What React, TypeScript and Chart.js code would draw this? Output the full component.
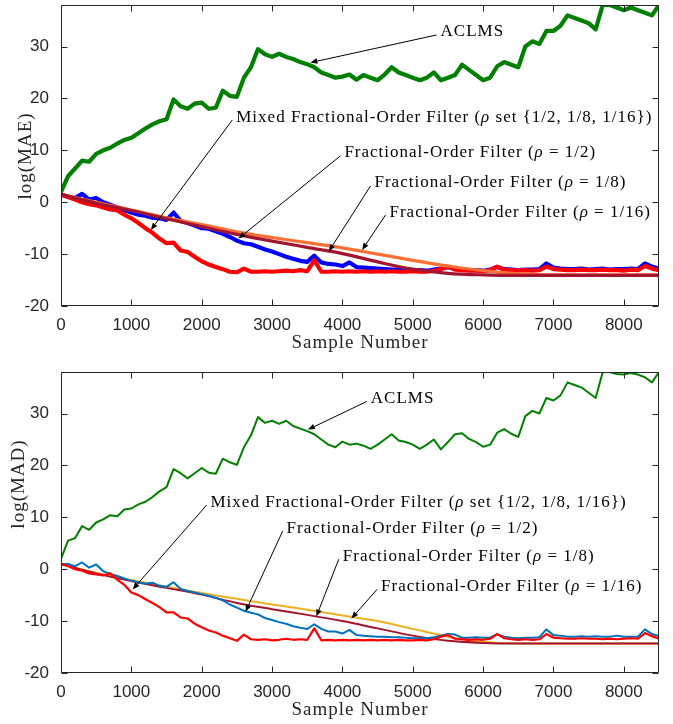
import React, { useEffect, useRef } from "react";
import { Chart, registerables } from "chart.js";
Chart.register(...registerables);

// ---------- data ----------
const sampleIdx = [
  0, 100, 200, 300, 400, 500, 600, 700, 800, 900,
  1000, 1100, 1200, 1300, 1400, 1500, 1600, 1700, 1800, 1900,
  2000, 2100, 2200, 2300, 2400, 2500, 2600, 2700, 2800, 2900,
  3000, 3100, 3200, 3300, 3400, 3500, 3600, 3700, 3800, 3900,
  4000, 4100, 4200, 4300, 4400, 4500, 4600, 4700, 4800, 4900,
  5000, 5100, 5200, 5300, 5400, 5500, 5600, 5700, 5800, 5900,
  6000, 6100, 6200, 6300, 6400, 6500, 6600, 6700, 6800, 6900,
  7000, 7100, 7200, 7300, 7400, 7500, 7600, 7700, 7800, 7900,
  8000, 8100, 8200, 8300, 8400, 8500,
];
const smoothIdx = [0, 500, 1000, 1500, 2000, 2500, 3000, 3500, 4000, 4500, 5000, 5500, 6000, 6500, 7000, 7500, 8000, 8500];
const xTicks = [0, 1000, 2000, 3000, 4000, 5000, 6000, 7000, 8000];
const yTicks = [-20, -10, 0, 10, 20, 30];

// log(MAE)
const maeACLMS = [
  2, 5, 6.5, 8, 7.8, 9.3, 10, 10.5, 11.3, 12,
  12.4, 13.3, 14.2, 15, 15.6, 16, 19.8, 18.5, 18, 19,
  19.2, 18, 18.2, 21.5, 20.5, 20.3, 24, 26, 29.5, 28.5,
  28, 28.6, 28, 27.6, 27, 26.6, 26, 25, 24.5, 24,
  24.2, 24.6, 23.6, 24.5, 24, 23.5, 24.6, 26, 25, 24.5,
  24, 23.5, 24, 25, 23.5, 24, 24.5, 26.5, 25.5, 24.5,
  23.5, 24, 26.2, 27, 26.5, 26, 30, 31, 30.5, 33,
  33, 34, 36, 35.5, 35, 34.5, 33.3, 38, 38, 37.5,
  37, 37.5, 37, 36.5, 36, 38,
];
const maeHalf = [
  1.5, 1, 0.8, 1.6, 0.5, 0.8, 0, -0.5, -1, -1.5,
  -2, -2.4, -2.6, -3, -3.1, -3.4, -2, -3.6, -4, -4.5,
  -5, -5.1, -5.6, -6.1, -6.7, -7.4, -7.9, -8.1, -8.6, -9.1,
  -9.5, -10, -10.5, -10.9, -11.3, -11.5, -10.3, -11.6, -11.9, -12,
  -12.3, -11.6, -12.5, -12.6, -12.7, -12.8, -12.9, -13, -13, -13.1,
  -13.1, -13.1, -13.2, -13, -12.8, -12.5, -12.8, -13, -13.1, -13.1,
  -13.2, -13, -12.5, -12.9, -13, -13.1, -13, -13, -12.9, -11.8,
  -12.6, -12.8, -12.9, -12.9, -12.8, -13, -12.9, -12.8, -13, -12.9,
  -12.9, -12.8, -12.9, -11.8, -12.4, -12.8,
];
const maeMixed = [
  1.5, 1, 0.5, 0, -0.4, -0.6, -1, -1.4, -1.6, -2.4,
  -3.1, -4, -5, -5.9, -7, -7.9, -7.8, -9.3, -9.6, -10.5,
  -11.4, -12, -12.5, -12.9, -13.4, -13.5, -12.8, -13.4, -13.4, -13.3,
  -13.4, -13.3, -13.2, -13.3, -13.1, -13.3, -11.2, -13.4, -13.4, -13.3,
  -13.4, -13.3, -13.4, -13.3, -13.4, -13.3, -13.4, -13.3, -13.4, -13.4,
  -13.3, -13.4, -13.4, -13.2, -12.9, -12.4, -13, -13.1, -13.2, -13.2,
  -13.3, -13.1, -12.4, -13, -13.1, -13.2, -13.1, -13.2, -13.1, -12.4,
  -12.9, -13, -13.1, -13.1, -13, -13.1, -13.1, -13, -13.1, -13.1,
  -13.2, -13, -13.1, -12.3, -12.8, -13.1,
];
const maeSixteenth = [1.5, 0, -1.5, -3, -4.3, -5.7, -6.8, -7.8, -8.8, -10, -11.2, -12.3, -13.2, -13.8, -14, -14, -14, -14];
const maeEighth = [1.5, -0.2, -1.6, -3.2, -4.7, -6.2, -7.5, -8.7, -9.9, -11.5, -12.9, -13.7, -14, -14.1, -14.1, -14.1, -14.1, -14.1];

// log(MAD)
const madACLMS = [
  2, 5.5, 6, 8.3, 7.6, 9, 9.6, 10.4, 10.2, 11.5,
  11.7, 12.5, 13, 13.9, 15, 15.8, 19.3, 18.5, 17.5, 18.5,
  19.5, 18.6, 18.4, 21.3, 20.6, 20.1, 23.5, 25.8, 29.3, 28.2,
  28.6, 28, 28.6, 27.6, 27.1, 26.6, 26, 25, 24, 23.5,
  24.6, 24, 24.2, 23.8, 23.2, 24, 25, 26, 24.8, 24.5,
  24, 23.2, 24, 25, 23.1, 24.5, 26, 26.2, 25.1, 24.5,
  23.6, 24, 26.3, 27, 26.1, 25.5, 29.5, 30.5, 30, 33,
  32.5, 33.5, 36, 35.5, 35, 34, 33, 38, 38, 37.6,
  37.5, 37.8, 37.5, 37, 36, 38,
];
const madHalf = [
  1, 1, 0.6, 1.3, 0.3, 0.9, -0.4, -0.9, -1.3, -1.8,
  -2.2, -2.5, -2.8, -2.6, -3.2, -3.4, -2.5, -3.8, -4.2, -4.5,
  -4.8, -5.1, -5.5, -6, -6.8, -7.4, -8, -8.4, -8.7, -9.4,
  -9.8, -10.2, -10.5, -11, -11.3, -11.5, -10.6, -11.5, -12, -12,
  -12.4, -11.7, -12.7, -12.8, -12.9, -13, -13, -13.1, -13.1, -13.2,
  -13.3, -13.3, -13.3, -13.1, -12.8, -12.5, -12.6, -13.2, -13.2, -13.1,
  -13.2, -13.2, -12.5, -13, -13.2, -13.3, -13.2, -13.2, -13.1, -11.6,
  -12.7, -12.8, -13, -13, -12.9, -13, -12.9, -13, -13, -12.8,
  -13, -13, -13, -11.6, -12.5, -12.9,
];
const madMixed = [
  1, 0.6, 0, -0.3, -0.8, -1, -1.2, -0.8, -2, -3,
  -4.5, -5, -5.8, -6.5, -7.3, -8.3, -8.3, -9.3, -9.5, -10.5,
  -11.2, -11.8, -12.2, -12.8, -13.3, -13.8, -12.6, -13.5, -13.6, -13.5,
  -13.7, -13.6, -13.4, -13.6, -13.5, -13.6, -11.4, -13.7, -13.6, -13.7,
  -13.6, -13.7, -13.6, -13.7, -13.6, -13.7, -13.6, -13.7, -13.6, -13.7,
  -13.7, -13.6, -13.7, -13.5, -13, -12.7, -13.4, -13.5, -13.6, -13.5,
  -13.6, -13.4, -12.5, -13.3, -13.5, -13.6, -13.5, -13.6, -13.5, -12.5,
  -13.2, -13.3, -13.4, -13.4, -13.3, -13.4, -13.4, -13.5, -13.4, -13.5,
  -13.4, -13.3, -13.4, -12.3, -12.9, -13.4,
];
const madSixteenth = [1, -0.7, -2.1, -3.4, -4.6, -5.7, -6.8, -7.8, -8.9, -10, -11.5, -13, -14, -14.3, -14.3, -14.3, -14.3, -14.3];
const madEighth = [1, -0.8, -2.3, -3.6, -4.9, -6.5, -7.7, -8.8, -10, -11.4, -12.8, -13.8, -14.2, -14.3, -14.3, -14.3, -14.3, -14.3];

// annotations
const noteLabels = [
  "ACLMS",
  "Mixed Fractional-Order Filter (ρ set {1/2, 1/8, 1/16})",
  "Fractional-Order Filter (ρ = 1/2)",
  "Fractional-Order Filter (ρ = 1/8)",
  "Fractional-Order Filter (ρ = 1/16)",
];
const maeNoteTextX = [5395, 2491, 4028, 4456, 4669];
const maeNoteTextY = [32.8, 16.4, 9.5, 3.7, -1.9];
const maeNoteHeadX = [3545, 1277, 2524, 3805, 4280];
const maeNoteHeadY = [26.9, -5.35, -7.0, -9.5, -9.2];
const madNoteTextX = [4403, 2125, 3207, 4005, 4550];
const madNoteTextY = [32.9, 12.9, 7.9, 2.5, -3.3];
const madNoteHeadX = [3510, 1019, 2623, 3630, 4128];
const madNoteHeadY = [26.9, -3.9, -8.2, -9.1, -9.5];

// ---------- drawing helpers ----------
const SERIF = '"Liberation Serif", "Times New Roman", serif';
const AXIS_COLOR = "#262626";

function drawRich(ctx: CanvasRenderingContext2D, text: string, x: number, y: number, size: number) {
  const parts = text.split("ρ");
  let cx = x;
  parts.forEach((p, i) => {
    if (i > 0) {
      ctx.font = `italic ${size}px ${SERIF}`;
      ctx.fillText("ρ", cx, y);
      cx += ctx.measureText("ρ").width;
    }
    ctx.font = `${size}px ${SERIF}`;
    ctx.fillText(p, cx, y);
    cx += ctx.measureText(p).width;
  });
}

const decorPlugin = {
  id: "decor",
  afterDatasetsDraw(chart: any, _args: any, opts: any) {
    const { ctx, chartArea, scales } = chart;
    const { left, right, top, bottom } = chartArea;
    const xs = scales.x;
    const ys = scales.y;
    ctx.save();
    // box
    ctx.strokeStyle = AXIS_COLOR;
    ctx.lineWidth = 1;
    const L = Math.round(left) + 0.5;
    const R = Math.round(right) - 0.5;
    const T = Math.round(top) + 0.5;
    const B = Math.round(bottom) - 0.5;
    ctx.beginPath();
    ctx.rect(L, T, R - L, B - T);
    ctx.stroke();
    // inward ticks
    const tl = 6;
    ctx.beginPath();
    xTicks.forEach((v) => {
      const px = Math.round(xs.getPixelForValue(v)) + 0.5;
      ctx.moveTo(px, B);
      ctx.lineTo(px, B - tl);
      ctx.moveTo(px, T);
      ctx.lineTo(px, T + tl);
    });
    yTicks.forEach((v) => {
      const py = Math.round(ys.getPixelForValue(v)) + 0.5;
      ctx.moveTo(L, py);
      ctx.lineTo(L + tl, py);
      ctx.moveTo(R, py);
      ctx.lineTo(R - tl, py);
    });
    ctx.stroke();

    // axis titles
    ctx.fillStyle = AXIS_COLOR;
    (ctx as any).letterSpacing = "1px";
    ctx.font = `19px ${SERIF}`;
    ctx.textAlign = "center";
    ctx.textBaseline = "middle";
    ctx.fillText(opts.xTitle, (left + right) / 2, bottom + opts.xTitleGap);
    ctx.save();
    ctx.translate(opts.yTitleX, opts.yTitleY);
    ctx.rotate(-Math.PI / 2);
    ctx.fillText(opts.yTitle, 0, 0);
    ctx.restore();

    // annotations
    ctx.textAlign = "left";
    ctx.textBaseline = "middle";
    ctx.strokeStyle = "#000";
    ctx.fillStyle = "#000";
    ctx.lineWidth = 1;
    const n = opts.notes;
    n.labels.forEach((label: string, i: number) => {
      const tx = xs.getPixelForValue(n.tx[i]);
      const ty = ys.getPixelForValue(n.ty[i]);
      const hx = xs.getPixelForValue(n.hx[i]);
      const hy = ys.getPixelForValue(n.hy[i]);
      const sx = tx - 4;
      const sy = ty + 3;
      const ang = Math.atan2(hy - sy, hx - sx);
      const AL = 7;
      const AW = 2.8;
      const bx = hx - AL * Math.cos(ang);
      const by = hy - AL * Math.sin(ang);
      ctx.beginPath();
      ctx.moveTo(sx, sy);
      ctx.lineTo(bx, by);
      ctx.stroke();
      ctx.beginPath();
      ctx.moveTo(hx, hy);
      ctx.lineTo(bx + AW * Math.sin(ang), by - AW * Math.cos(ang));
      ctx.lineTo(bx - AW * Math.sin(ang), by + AW * Math.cos(ang));
      ctx.closePath();
      ctx.fill();
      drawRich(ctx, label, tx, ty, 17);
    });
    ctx.restore();
  },
};

type Series = { xs: number[]; ys: number[]; color: string; width: number; smooth?: boolean };

function makeDataset(s: Series) {
  return {
    data: s.xs.map((x, i) => ({ x, y: s.ys[i] })),
    borderColor: s.color,
    backgroundColor: s.color,
    borderWidth: s.width,
    pointRadius: 0,
    fill: false,
    cubicInterpolationMode: s.smooth ? ("monotone" as const) : ("default" as const),
    borderJoinStyle: "round" as const,
    borderCapStyle: "round" as const,
  };
}

function Panel(props: {
  series: Series[];
  yTitle: string;
  padTop: number;
  axisH: number;
  yTitleX: number;
  yTitleY: number;
  notes: any;
}) {
  const ref = useRef<HTMLCanvasElement | null>(null);
  useEffect(() => {
    if (!ref.current) return;
    const chart = new Chart(ref.current, {
      type: "line",
      data: { datasets: props.series.map(makeDataset) as any },
      options: {
        responsive: false,
        animation: false,
        maintainAspectRatio: false,
        layout: { padding: { top: props.padTop, right: 14, left: 0, bottom: 0 } },
        plugins: {
          legend: { display: false },
          tooltip: { enabled: false },
          decor: {
            xTitle: "Sample Number",
            xTitleGap: 37,
            yTitle: props.yTitle,
            yTitleX: props.yTitleX,
            yTitleY: props.yTitleY,
            notes: props.notes,
          },
        } as any,
        scales: {
          x: {
            type: "linear",
            min: 0,
            max: 8500,
            grid: { display: false },
            border: { display: false },
            afterBuildTicks: (s: any) => {
              s.ticks = xTicks.map((v) => ({ value: v }));
            },
            afterFit: (s: any) => {
              s.height = props.axisH;
              s.paddingLeft = 0;
              s.paddingRight = 0;
              s.paddingTop = 0;
              s.paddingBottom = 0;
            },
            ticks: {
              font: { family: '"Liberation Sans", Arial, sans-serif', size: 17 },
              color: AXIS_COLOR,
              padding: 1,
              maxRotation: 0,
              autoSkip: false,
              callback: (v: any) => String(v),
            },
          },
          y: {
            type: "linear",
            min: -20,
            max: 38,
            grid: { display: false },
            border: { display: false },
            afterBuildTicks: (s: any) => {
              s.ticks = yTicks.map((v) => ({ value: v }));
            },
            afterFit: (s: any) => {
              s.width = 61;
              s.paddingLeft = 0;
              s.paddingRight = 0;
              s.paddingTop = 0;
              s.paddingBottom = 0;
            },
            ticks: {
              font: { family: '"Liberation Sans", Arial, sans-serif', size: 17 },
              color: AXIS_COLOR,
              padding: 4,
              autoSkip: false,
              callback: (v: any) => String(v),
            },
          },
        },
      },
      plugins: [decorPlugin as any],
    });
    return () => chart.destroy();
  }, []);
  return <canvas ref={ref} width={673} height={362} style={{ display: "block", width: 673, height: 362 }} />;
}

export default function App() {
  const maeSeries: Series[] = [
    { xs: smoothIdx, ys: maeEighth, color: "#A2142F", width: 3.2, smooth: true },
    { xs: smoothIdx, ys: maeSixteenth, color: "#FF6E32", width: 3.2, smooth: true },
    { xs: sampleIdx, ys: maeMixed, color: "#FF0000", width: 4.2 },
    { xs: sampleIdx, ys: maeHalf, color: "#0000FF", width: 4.2 },
    { xs: sampleIdx, ys: maeACLMS, color: "#008000", width: 4.2 },
  ];
  const madSeries: Series[] = [
    { xs: sampleIdx, ys: madMixed, color: "#FF0000", width: 2.2 },
    { xs: sampleIdx, ys: madHalf, color: "#0072BD", width: 2 },
    { xs: smoothIdx, ys: madEighth, color: "#A2142F", width: 2, smooth: true },
    { xs: smoothIdx, ys: madSixteenth, color: "#EDB120", width: 2, smooth: true },
    { xs: sampleIdx, ys: madACLMS, color: "#008000", width: 2 },
  ];
  const maeNotes = { labels: noteLabels, tx: maeNoteTextX, ty: maeNoteTextY, hx: maeNoteHeadX, hy: maeNoteHeadY };
  const madNotes = { labels: noteLabels, tx: madNoteTextX, ty: madNoteTextY, hx: madNoteHeadX, hy: madNoteHeadY };
  return (
    <div style={{ position: "absolute", left: 0, top: 0, width: 673, height: 724, background: "#fff" }}>
      <Panel series={maeSeries} yTitle="log(MAE)" padTop={5} axisH={56} yTitleX={26} yTitleY={156} notes={maeNotes} />
      <Panel series={madSeries} yTitle="log(MAD)" padTop={10} axisH={51} yTitleX={19} yTitleY={122} notes={madNotes} />
    </div>
  );
}
